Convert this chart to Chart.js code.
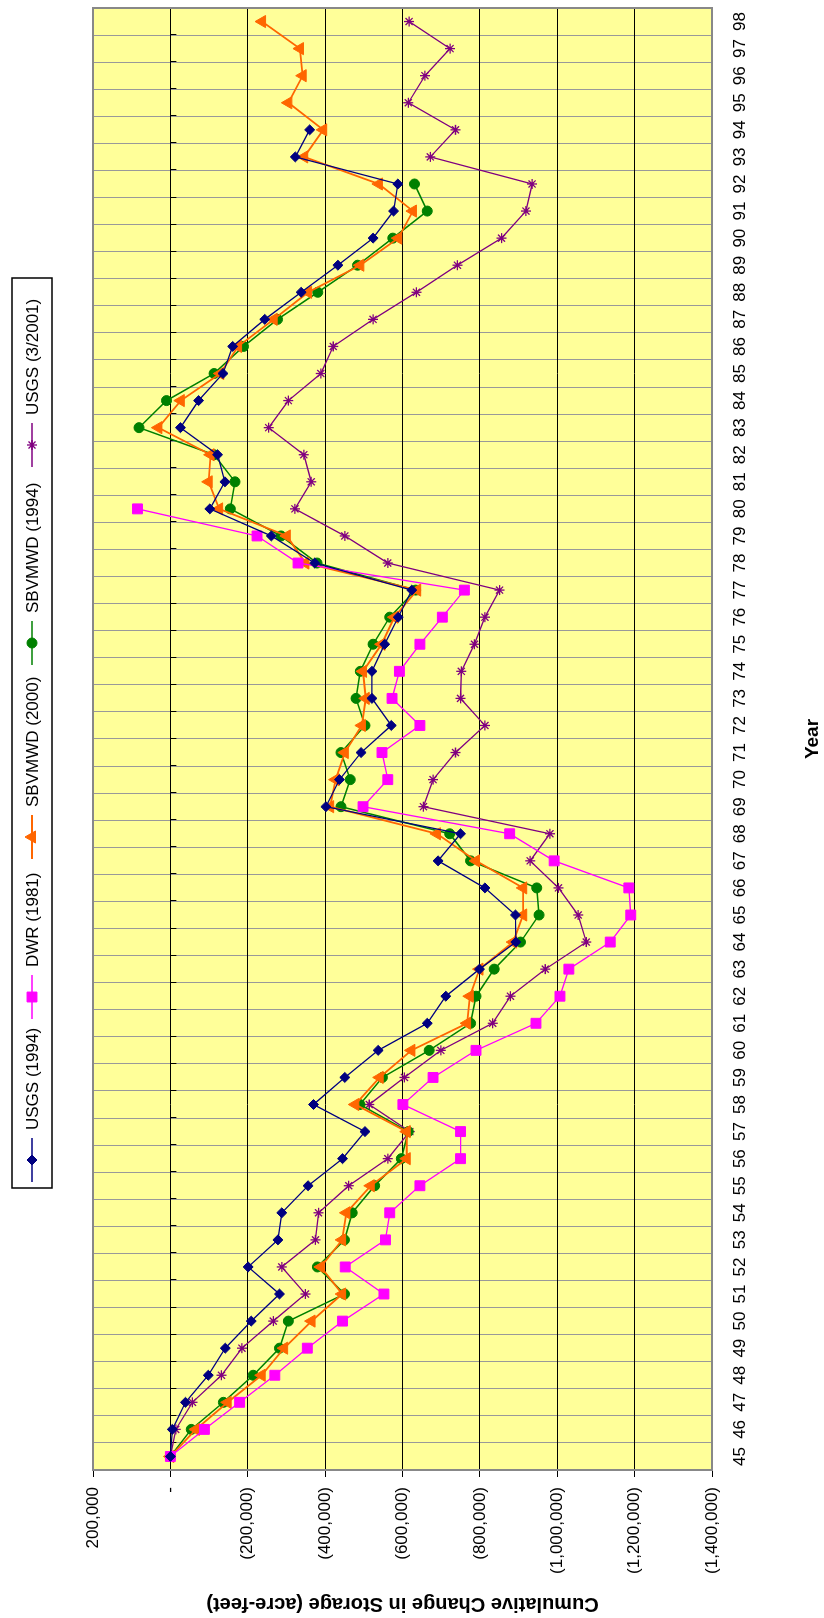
<!DOCTYPE html>
<html>
<head>
<meta charset="utf-8">
<script src="https://cdn.jsdelivr.net/npm/chart.js@4"></script>
<style>
  html, body { margin: 0; padding: 0; background: #fff; overflow: hidden; }
  body { width: 824px; height: 1618px; position: relative; }
  /* the chart is drawn in landscape and turned a quarter turn to the left */
  #wrap {
    position: absolute; left: 0; top: 0;
    width: 1618px; height: 824px;
    transform-origin: 0 0;
    transform: translateY(1618px) rotate(-90deg);
  }
</style>
</head>
<body>
<div id="wrap"><canvas id="storage" width="1618" height="824"></canvas></div>
<script>
const years = ['45','46','47','48','49','50','51','52','53','54','55','56','57','58','59','60','61','62','63','64',
  '65','66','67','68','69','70','71','72','73','74','75','76','77','78','79','80','81','82','83','84',
  '85','86','87','88','89','90','91','92','93','94','95','96','97','98'];

// cumulative change in storage, acre-feet
const usgs1994 = [0, -5000, -39000, -98000, -142000, -209000, -282000, -201000, -278000, -288000,
  -356000, -445000, -503000, -370000, -451000, -537000, -664000, -712000, -799000, -893000,
  -892000, -813000, -692000, -750000, -402000, -437000, -493000, -571000, -521000, -521000,
  -554000, -589000, -624000, -373000, -261000, -102000, -141000, -122000, -26000, -73000,
  -136000, -161000, -244000, -338000, -433000, -524000, -577000, -588000, -323000, -360000,
  null, null, null, null];

const dwr1981 = [0, -88000, -179000, -270000, -354000, -445000, -552000, -452000, -556000, -567000,
  -645000, -750000, -750000, -601000, -679000, -790000, -945000, -1007000, -1030000, -1137000,
  -1190000, -1185000, -992000, -877000, -498000, -562000, -547000, -645000, -573000, -592000,
  -645000, -703000, -760000, -330000, -224000, 85000, null, null, null, null,
  null, null, null, null, null, null, null, null, null, null,
  null, null, null, null];

const sbvmwd2000 = [0, -66000, -148000, -236000, -294000, -365000, -444000, -389000, -444000, -455000,
  -518000, -611000, -611000, -478000, -541000, -623000, -767000, -774000, -799000, -886000,
  -912000, -912000, -790000, -689000, -413000, -427000, -451000, -495000, -505000, -498000,
  -546000, -579000, -638000, -349000, -301000, -126000, -99000, -104000, 31000, -27000,
  -129000, -175000, -267000, -356000, -491000, -589000, -627000, -539000, -346000, -395000,
  -305000, -342000, -335000, -237000];

const sbvmwd1994 = [0, -54000, -137000, -214000, -282000, -305000, -450000, -380000, -450000, -470000,
  -528000, -597000, -615000, -490000, -548000, -669000, -776000, -790000, -837000, -905000,
  -953000, -947000, -776000, -722000, -441000, -465000, -441000, -503000, -480000, -491000,
  -524000, -567000, -634000, -379000, -286000, -155000, -167000, -113000, 81000, 10000,
  -113000, -189000, -277000, -381000, -484000, -575000, -664000, -631000, null, null,
  null, null, null, null];

const usgs2001 = [0, -14000, -57000, -132000, -185000, -266000, -349000, -288000, -375000, -383000,
  -461000, -562000, -619000, -514000, -605000, -699000, -833000, -879000, -969000, -1075000,
  -1054000, -1003000, -930000, -981000, -654000, -679000, -737000, -813000, -750000, -752000,
  -786000, -813000, -851000, -562000, -451000, -322000, -364000, -345000, -254000, -305000,
  -389000, -421000, -524000, -636000, -742000, -856000, -919000, -935000, -672000, -737000,
  -615000, -658000, -723000, -617000];

const seriesNames = ['USGS (1994)', 'DWR (1981)', 'SBVMWD (2000)', 'SBVMWD (1994)', 'USGS (3/2001)'];

const FONT = 'Liberation Sans, Arial, sans-serif';

function series(label, data, color, style, radius, width) {
  return {
    label, data,
    borderColor: color,
    backgroundColor: color,
    borderWidth: width,
    pointStyle: style,
    pointRadius: radius,
    pointBackgroundColor: color,
    pointBorderColor: color,
    pointBorderWidth: style === 'star' ? 1.3 : 1,
    tension: 0,
    spanGaps: false
  };
}

function money(v) {
  if (v === 0) return '-';
  const s = Math.abs(v).toLocaleString('en-US');
  return v < 0 ? '(' + s + ')' : s;
}

// yellow plot background, grey frame, little ticks on the zero line
const plotDecor = {
  id: 'plotDecor',
  beforeDraw(chart) {
    const a = chart.chartArea, ctx = chart.ctx;
    ctx.save();
    ctx.fillStyle = '#FFFF99';
    ctx.fillRect(a.left, a.top, a.right - a.left, a.bottom - a.top);
    ctx.restore();
  },
  beforeDatasetsDraw(chart) {
    const a = chart.chartArea, ctx = chart.ctx;
    const y0 = chart.scales.y.getPixelForValue(0);
    ctx.save();
    ctx.strokeStyle = '#000';
    ctx.lineWidth = 1;
    ctx.beginPath();
    const step = (a.right - a.left) / years.length;
    for (let i = 0; i <= years.length; i++) {
      const px = Math.round(a.left + i * step) + 0.5;
      ctx.moveTo(px, y0);
      ctx.lineTo(px, y0 + 6);
    }
    ctx.stroke();
    ctx.strokeStyle = '#888';
    ctx.lineWidth = 2;
    ctx.strokeRect(a.left, a.top, a.right - a.left, a.bottom - a.top);
    ctx.restore();
  }
};

// Excel style legend: line sample with marker, boxed, above the plot
const boxLegend = {
  id: 'boxLegend',
  afterDraw(chart) {
    const ctx = chart.ctx;
    const centers = [458, 621, 781, 975, 1173];
    const yMid = 32;
    ctx.save();
    ctx.fillStyle = '#fff';
    ctx.fillRect(430, 12, 910, 40);
    ctx.strokeStyle = '#000';
    ctx.lineWidth = 1.5;
    ctx.strokeRect(430, 12, 910, 40);
    chart.data.datasets.forEach((ds, i) => {
      const cx = centers[i];
      ctx.strokeStyle = ds.borderColor;
      ctx.lineWidth = ds.borderWidth;
      ctx.beginPath();
      ctx.moveTo(cx - 22, yMid);
      ctx.lineTo(cx + 22, yMid);
      ctx.stroke();
      ctx.fillStyle = ds.pointBackgroundColor;
      ctx.strokeStyle = ds.pointBorderColor;
      ctx.lineWidth = ds.pointBorderWidth;
      if (Chart.helpers && Chart.helpers.drawPoint) {
        Chart.helpers.drawPoint(ctx, { pointStyle: ds.pointStyle, radius: ds.pointRadius, rotation: 0, borderWidth: ds.pointBorderWidth }, cx, yMid);
      }
      ctx.fillStyle = '#000';
      ctx.font = '17px ' + FONT;
      ctx.textBaseline = 'middle';
      ctx.textAlign = 'left';
      ctx.fillText(ds.label, cx + 30, yMid + 1);
    });
    ctx.restore();
  }
};

new Chart(document.getElementById('storage').getContext('2d'), {
  type: 'line',
  data: {
    labels: years,
    datasets: [
      series(seriesNames[0], usgs1994, '#000080', 'rectRot', 5, 1.3),
      series(seriesNames[1], dwr1981, '#FF00FF', 'rect', 7, 1.3),
      series(seriesNames[2], sbvmwd2000, '#FF6600', 'triangle', 7, 1.8),
      series(seriesNames[3], sbvmwd1994, '#008000', 'circle', 5, 1.5),
      series(seriesNames[4], usgs2001, '#800080', 'star', 5, 1.3)
    ]
  },
  options: {
    responsive: false,
    animation: false,
    layout: { padding: { top: 93, right: -6, left: 0, bottom: 0 } },
    plugins: { legend: { display: false }, tooltip: { enabled: false } },
    scales: {
      x: {
        offset: true,
        grid: { offset: true, color: '#999', lineWidth: 1, drawTicks: true, tickLength: 15, tickColor: 'rgba(0,0,0,0)' },
        border: { display: false },
        ticks: { padding: 3, color: '#000', font: { family: FONT, size: 17 }, maxRotation: 0, autoSkip: false },
        title: { display: true, text: 'Year', color: '#000', font: { family: FONT, size: 19, weight: 'bold' }, padding: { top: 0, bottom: 0 } },
        afterFit(scale) { scale.height = 112; }
      },
      y: {
        min: -1400000,
        max: 200000,
        grid: { color: '#000', lineWidth: 1, tickColor: '#000', tickLength: 7 },
        border: { display: false },
        ticks: { stepSize: 200000, padding: 10, color: '#000', font: { family: FONT, size: 17 }, callback: v => money(v) },
        title: { display: true, text: 'Cumulative Change in Storage (acre-feet)', color: '#000', font: { family: FONT, size: 20, weight: 'bold' }, padding: { top: 2, bottom: 2 } },
        afterFit(scale) { scale.width = 148; }
      }
    }
  },
  plugins: [plotDecor, boxLegend]
});
</script>
</body>
</html>
